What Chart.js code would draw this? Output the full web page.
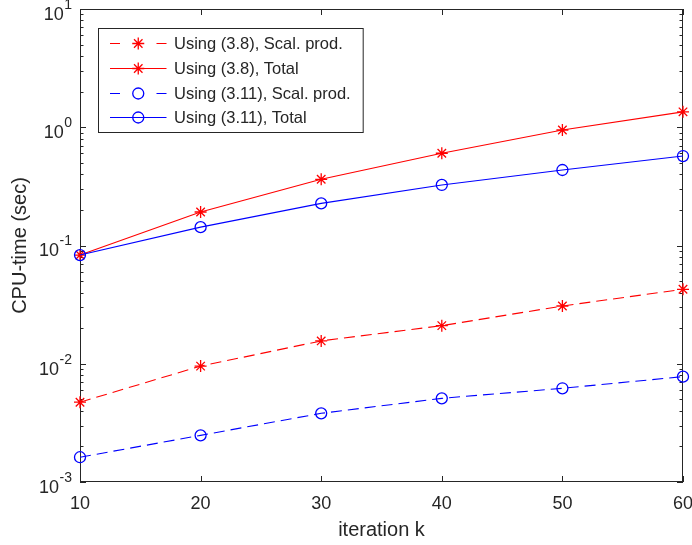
<!DOCTYPE html>
<html>
<head>
<meta charset="utf-8">
<script src="https://cdn.jsdelivr.net/npm/chart.js@4"></script>
<style>
  html, body { margin: 0; padding: 0; background: #fff; }
  #wrap { width: 692px; height: 545px; }
</style>
</head>
<body>
<div id="wrap"><canvas id="cpuChart" width="692" height="545"></canvas></div>
<script>
// iteration counts on the x axis
const iterations = [10, 20, 30, 40, 50, 60];

// CPU time in seconds
const scalProd38 = [0.00473, 0.00955, 0.0156, 0.0210, 0.0308, 0.0426];
const total38 = [0.083, 0.192, 0.363, 0.603, 0.948, 1.35];
const scalProd311 = [0.00162, 0.00248, 0.00381, 0.0051, 0.0062, 0.00778];
const total311 = [0.083, 0.143, 0.227, 0.325, 0.435, 0.571];

const seriesLabels = [
  "Using (3.8), Scal. prod.",
  "Using (3.8), Total",
  "Using (3.11), Scal. prod.",
  "Using (3.11), Total"
];

// log axis decades (10^-3 .. 10^1) and x tick values
const yDecades = [-3, -2, -1, 0, 1];
const xTicks = [10, 20, 30, 40, 50, 60];

const AXIS = "#262626";
const FONT = "'Liberation Sans', Arial, sans-serif";
const RED = "#ff0000";
const BLUE = "#0000ff";

function series(label, values, color, dashed, marker, order) {
  return {
    label: label,
    data: iterations.map((k, i) => ({ x: k, y: values[i] })),
    borderColor: color,
    backgroundColor: color,
    borderWidth: 1.1,
    borderDash: dashed ? [11, 6] : [],
    pointStyle: marker,
    pointRadius: marker === "star" ? 6 : 5.5,
    pointHoverRadius: 5.5,
    pointBorderColor: color,
    pointBackgroundColor: "rgba(0,0,0,0)",
    pointBorderWidth: 1.3,
    tension: 0,
    clip: false,
    order: order
  };
}

// box, inward ticks and superscript tick labels, MATLAB style
const axesBox = {
  id: "axesBox",
  beforeDatasetsDraw(chart) {
    const { ctx, chartArea: a, scales } = chart;
    const xs = scales.x, ys = scales.y;
    ctx.save();
    ctx.strokeStyle = AXIS;
    ctx.lineWidth = 1;
    ctx.strokeRect(a.left + 0.5, a.top + 0.5, a.right - a.left - 1, a.bottom - a.top - 1);

    ctx.beginPath();
    xTicks.forEach(v => {
      const x = Math.round(xs.getPixelForValue(v)) + 0.5;
      ctx.moveTo(x, a.bottom); ctx.lineTo(x, a.bottom - 6);
      ctx.moveTo(x, a.top); ctx.lineTo(x, a.top + 6);
    });
    yDecades.forEach(d => {
      const y = Math.round(ys.getPixelForValue(Math.pow(10, d))) + 0.5;
      ctx.moveTo(a.left, y); ctx.lineTo(a.left + 6, y);
      ctx.moveTo(a.right, y); ctx.lineTo(a.right - 6, y);
      if (d < yDecades[yDecades.length - 1]) {
        for (let m = 2; m <= 9; m++) {
          const ym = Math.round(ys.getPixelForValue(m * Math.pow(10, d))) + 0.5;
          ctx.moveTo(a.left, ym); ctx.lineTo(a.left + 3.5, ym);
          ctx.moveTo(a.right, ym); ctx.lineTo(a.right - 3.5, ym);
        }
      }
    });
    ctx.stroke();

    // 10^d labels
    ctx.fillStyle = AXIS;
    ctx.textAlign = "right";
    ctx.textBaseline = "middle";
    const labelRight = a.left - 8;
    yDecades.forEach(d => {
      const y = ys.getPixelForValue(Math.pow(10, d));
      const exp = String(d);
      ctx.font = "14px " + FONT;
      const ew = ctx.measureText(exp).width;
      ctx.fillText(exp, labelRight, y - 4);
      ctx.font = "18px " + FONT;
      ctx.fillText("10", labelRight - ew - 0.5, y + 6);
    });
    ctx.restore();
  },
  afterDraw(chart) {
    // legend box with line + marker samples
    const { ctx } = chart;
    const sets = chart.data.datasets;
    const boxLeft = 98, boxTop = 28, rowH = 24.7, firstRow = 43.3;
    const lineL = 110, lineR = 166.5, textX = 174;
    ctx.save();
    ctx.font = "16.5px " + FONT;
    let maxW = 0;
    sets.forEach(s => { maxW = Math.max(maxW, ctx.measureText(s.label).width); });
    const boxW = textX + maxW + 12 - boxLeft;
    const boxH = 104;
    ctx.fillStyle = "#fff";
    ctx.fillRect(boxLeft, boxTop, boxW, boxH);
    ctx.strokeStyle = AXIS;
    ctx.lineWidth = 1;
    ctx.strokeRect(boxLeft + 0.5, boxTop + 0.5, boxW, boxH);

    sets.forEach((s, i) => {
      const y = Math.round(firstRow + i * rowH) + 0.5;
      const cx = (lineL + lineR) / 2;
      ctx.strokeStyle = s.borderColor;
      ctx.lineWidth = s.borderWidth;
      ctx.setLineDash(s.borderDash.length ? [10, 36.5] : []);
      ctx.beginPath();
      ctx.moveTo(lineL, y); ctx.lineTo(lineR, y);
      ctx.stroke();
      ctx.setLineDash([]);
      ctx.lineWidth = s.pointBorderWidth;
      ctx.fillStyle = s.pointBackgroundColor;
      Chart.helpers.drawPoint(ctx, { pointStyle: s.pointStyle, radius: s.pointRadius, borderWidth: s.pointBorderWidth, rotation: 0 }, cx, y);
      ctx.fillStyle = AXIS;
      ctx.textAlign = "left";
      ctx.textBaseline = "middle";
      ctx.fillText(s.label, textX, y + 0.5);
    });
    ctx.restore();
  }
};

new Chart(document.getElementById("cpuChart"), {
  type: "line",
  data: {
    datasets: [
      series(seriesLabels[0], scalProd38, RED, true, "star", 4),
      series(seriesLabels[1], total38, RED, false, "star", 3),
      series(seriesLabels[2], scalProd311, BLUE, true, "circle", 2),
      series(seriesLabels[3], total311, BLUE, false, "circle", 1)
    ]
  },
  options: {
    responsive: false,
    animation: false,
    events: [],
    layout: { padding: { top: 9, right: 9, left: 0, bottom: 0 } },
    plugins: {
      legend: { display: false },
      tooltip: { enabled: false }
    },
    scales: {
      x: {
        type: "linear",
        min: 10,
        max: 60,
        grid: { display: false, drawTicks: false },
        border: { display: false },
        ticks: {
          stepSize: 10,
          padding: 11,
          color: AXIS,
          font: { family: FONT, size: 18 }
        },
        title: {
          display: true,
          text: "iteration k",
          color: AXIS,
          font: { family: FONT, size: 20 },
          padding: { top: 0, bottom: 3 }
        },
        afterFit(scale) {
          scale.height = 63;
          // let the end labels hang past the plot box
          scale.paddingLeft = 0;
          scale.paddingRight = 0;
        }
      },
      y: {
        type: "logarithmic",
        min: 0.001,
        max: 10,
        grid: { display: false, drawTicks: false },
        border: { display: false },
        ticks: { display: false },
        title: {
          display: true,
          text: "CPU-time (sec)",
          color: AXIS,
          font: { family: FONT, size: 20 },
          padding: { top: 8, bottom: 0 }
        },
        afterFit(scale) { scale.width = 80; }
      }
    }
  },
  plugins: [axesBox]
});
</script>
</body>
</html>
